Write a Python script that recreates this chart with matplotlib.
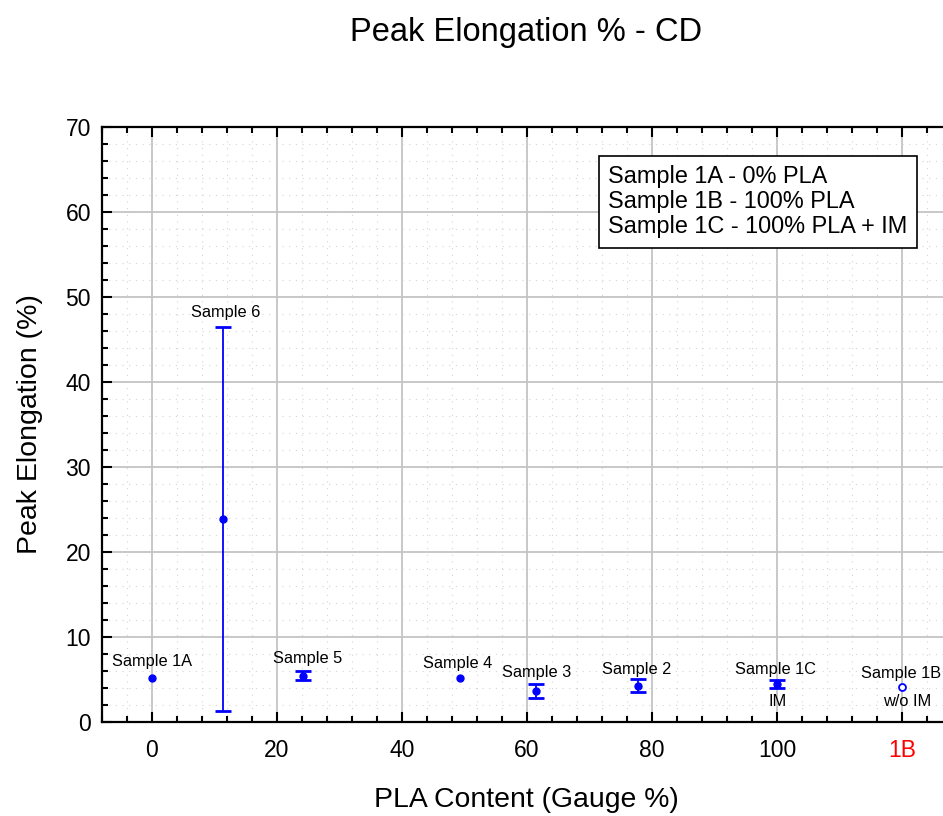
import matplotlib
matplotlib.use('agg')
import matplotlib.pyplot as plt
from matplotlib.ticker import MultipleLocator, FixedLocator

plt.rcParams['font.family'] = ['Liberation Sans', 'DejaVu Sans']

# 样本数据
samples = ['Sample 1A', 'Sample 6', 'Sample 5', 'Sample 4', 'Sample 3', 'Sample 2', 'Sample 1C']
pla = [0, 11.3, 24.1, 49.3, 61.4, 77.8, 100]
elong = [5.2, 23.9, 5.45, 5.2, 3.67, 4.26, 4.45]
err = [0, 22.6, 0.51, 0, 0.8, 0.77, 0.49]

# 1B 单独放在右侧
x_1b = 120
y_1b = 4.1

xticks = [0, 20, 40, 60, 80, 100, 120]
xticklabels = ['0', '20', '40', '60', '80', '100', '1B']
legend_text = 'Sample 1A - 0% PLA\nSample 1B - 100% PLA\nSample 1C - 100% PLA + IM'

# 标签偏移(像素)
label_off = [(0, 16), (3, 14), (5, 13), (-2, 14), (1, 12), (-2, 10), (-1, 11)]

fig = plt.figure(figsize=(9.43, 8.16), dpi=100)
ax = fig.add_axes([102 / 943, 94 / 816, 848 / 943, 595 / 816])
ax.set_xlim(-8, 127.68)
ax.set_ylim(0, 70)

ax.xaxis.set_major_locator(FixedLocator(xticks))
ax.set_xticklabels(xticklabels)
ax.get_xticklabels()[-1].set_color('red')
ax.xaxis.set_minor_locator(MultipleLocator(4))
ax.yaxis.set_major_locator(MultipleLocator(10))
ax.yaxis.set_minor_locator(MultipleLocator(2))

ax.grid(which='major', color='#c4c4c4', linewidth=1.3)
ax.grid(which='minor', color='#d4d4d4', linewidth=0.8, linestyle=(0, (1, 5)))
ax.set_axisbelow(True)

ax.tick_params(which='both', direction='in', top=True, right=False, labelsize=16.5, width=1.5)
ax.tick_params(axis='x', which='major', length=7, pad=12)
ax.tick_params(axis='y', which='major', length=7, pad=8)
ax.tick_params(which='minor', length=4)
for s in ax.spines.values():
    s.set_linewidth(1.6)

# 有误差的点画误差棒, 没有的只画点
for x, y, e in zip(pla, elong, err):
    if e > 0:
        ax.errorbar([x], [y], yerr=[e], fmt='o', color='blue', markersize=5,
                    capsize=6, elinewidth=1.3, capthick=2, zorder=3)
    else:
        ax.plot([x], [y], 'o', color='blue', markersize=5, zorder=3)
ax.plot([x_1b], [y_1b], 'o', mfc='white', mec='blue', markersize=5, mew=1.3, zorder=3)

for name, x, y, e, off in zip(samples, pla, elong, err, label_off):
    ax.annotate(name, (x, y + e), xytext=off, textcoords='offset pixels',
                ha='center', va='center', fontsize=11.8)
ax.annotate('IM', (pla[-1], elong[-1] - err[-1]), xytext=(1, -13), textcoords='offset pixels',
            ha='center', va='center', fontsize=11.8)
ax.annotate('Sample 1B', (x_1b, y_1b), xytext=(-1, 13.5), textcoords='offset pixels',
            ha='center', va='center', fontsize=11.8)
ax.annotate('w/o IM', (x_1b, y_1b), xytext=(5.5, -14), textcoords='offset pixels',
            ha='center', va='center', fontsize=11.8)

ax.text(96.9, 61.2, legend_text, ha='center', va='center', multialignment='left', fontsize=16.9,
        linespacing=1.12, bbox=dict(boxstyle='square,pad=0.4', fc='white', ec='black', lw=1.2), zorder=5)

ax.set_xlabel('PLA Content (Gauge %)', fontsize=20.4, labelpad=18)
ax.set_ylabel('Peak Elongation (%)', fontsize=20.5, labelpad=16)
fig.text(526 / 943, 1 - 32 / 816, 'Peak Elongation % - CD', ha='center', va='center', fontsize=23.5)

fig.savefig('out.png', dpi=100)
